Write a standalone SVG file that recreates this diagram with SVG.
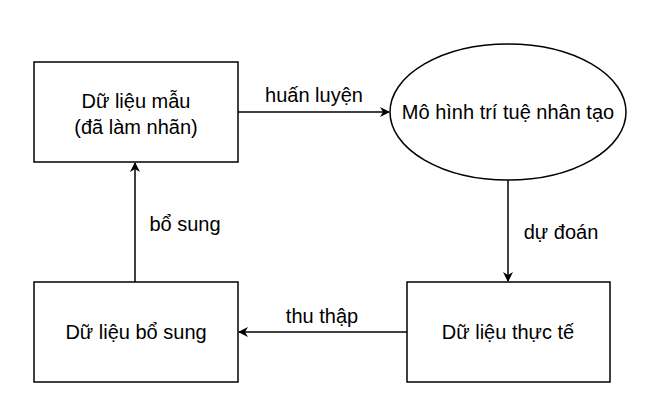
<svg xmlns="http://www.w3.org/2000/svg" width="650" height="414" viewBox="0 0 650 414">
<style>
.n{fill:#fff;stroke:#000;stroke-width:1.5}
text{font-family:"Liberation Sans",Arial,sans-serif;font-size:20px;fill:#000;text-anchor:middle}
.c{stroke:#000;stroke-width:1.5;fill:none;marker-end:url(#a)}
</style>
<defs><marker id="a" markerWidth="10" markerHeight="10" refX="9" refY="5" orient="auto" markerUnits="userSpaceOnUse"><path d="M0,0 L10,5 L0,10 L3,5 Z" fill="#000"/></marker></defs>
<rect width="650" height="414" fill="#fff"/>
<g id="mau"><rect class="n" x="34" y="62" width="204" height="100"/><text x="136" y="108">Dữ liệu mẫu</text><text x="136" y="134">(đã làm nhãn)</text></g>
<g id="ai"><ellipse class="n" cx="508" cy="112" rx="118" ry="68"/><text x="508" y="119">Mô hình trí tuệ nhân tạo</text></g>
<g id="thucte"><rect class="n" x="407" y="282" width="203" height="100"/><text x="508" y="339">Dữ liệu thực tế</text></g>
<g id="bosung"><rect class="n" x="34" y="282" width="204" height="100"/><text x="136" y="339">Dữ liệu bổ sung</text></g>
<g id="connectors">
<path class="c" d="M238,112 H389"/><text x="314" y="102">huấn luyện</text>
<path class="c" d="M508,180 V281"/><text x="561" y="239">dự đoán</text>
<path class="c" d="M407,332 H239"/><text x="322" y="323">thu thập</text>
<path class="c" d="M135,282 V163"/><text x="185" y="231">bổ sung</text>
</g>
</svg>
